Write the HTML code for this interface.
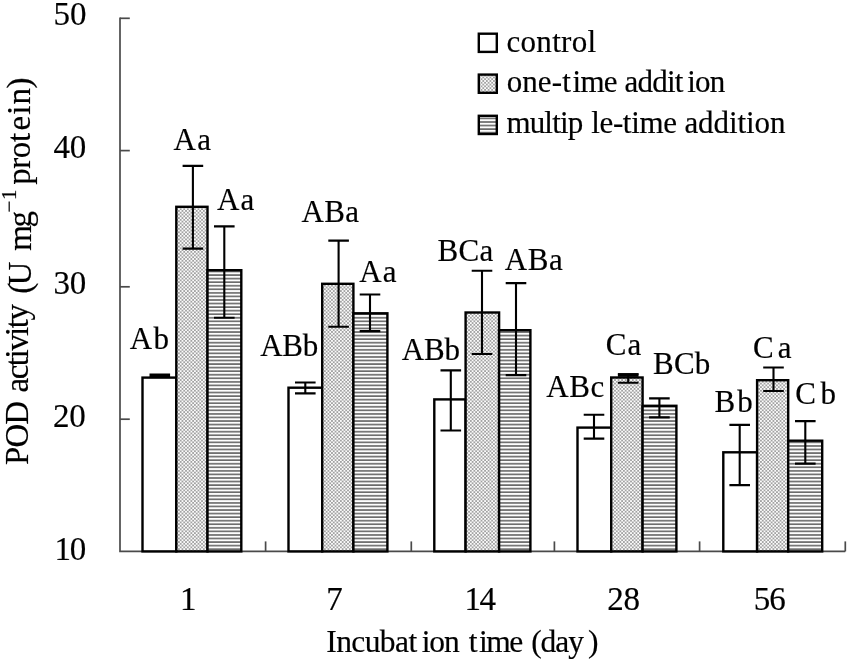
<!DOCTYPE html>
<html><head><meta charset="utf-8"><title>POD activity</title>
<style>html,body{margin:0;padding:0;background:#fff;}svg{display:block;filter:grayscale(1);}text{font-family:"Liberation Serif",serif;fill:#000;stroke:#000;stroke-width:0.18px;}</style></head><body>
<svg width="850" height="662" viewBox="0 0 850 662">
<defs>
<pattern id="dots" width="3.56" height="3.56" patternUnits="userSpaceOnUse"><rect width="3.56" height="3.56" fill="#fbfbfb"/><rect x="0" y="0" width="1.78" height="1.78" fill="#a2a2a2"/><rect x="1.78" y="1.78" width="1.78" height="1.78" fill="#a2a2a2"/></pattern>
<pattern id="hatch" width="3.56" height="3.56" patternUnits="userSpaceOnUse"><rect width="3.56" height="3.56" fill="#fdfdfd"/><rect x="0" y="0.2" width="3.56" height="1.5" fill="#5c5c5c"/></pattern>
</defs>
<rect width="850" height="662" fill="#fff"/>
<g stroke="#4a4a4a" stroke-width="1.7" fill="none">
<path d="M120.0 17.5V551.4H845.3"/>
<path d="M120.0 18.3H129.8"/>
<path d="M120.0 150.6H129.8"/>
<path d="M120.0 286.8H129.8"/>
<path d="M120.0 419.2H129.8"/>
<path d="M265.6 551.4V541.4"/>
<path d="M411.3 551.4V541.4"/>
<path d="M554.4 551.4V541.4"/>
<path d="M699.6 551.4V541.4"/>
<path d="M845.3 551.4V541.4"/>
</g>
<rect x="142.5" y="377.6" width="33.80" height="173.80" fill="#ffffff" stroke="#000" stroke-width="2.4"/>
<rect x="176.3" y="206.8" width="31.20" height="344.60" fill="url(#dots)" stroke="#000" stroke-width="2.4"/>
<rect x="207.5" y="270.2" width="33.80" height="281.20" fill="url(#hatch)" stroke="#000" stroke-width="2.4"/>
<rect x="288.5" y="387.7" width="33.70" height="163.70" fill="#ffffff" stroke="#000" stroke-width="2.4"/>
<rect x="322.2" y="283.8" width="31.20" height="267.60" fill="url(#dots)" stroke="#000" stroke-width="2.4"/>
<rect x="353.4" y="313.3" width="34.00" height="238.10" fill="url(#hatch)" stroke="#000" stroke-width="2.4"/>
<rect x="434.3" y="399.4" width="31.30" height="152.00" fill="#ffffff" stroke="#000" stroke-width="2.4"/>
<rect x="465.6" y="312.5" width="33.50" height="238.90" fill="url(#dots)" stroke="#000" stroke-width="2.4"/>
<rect x="499.1" y="330.2" width="31.30" height="221.20" fill="url(#hatch)" stroke="#000" stroke-width="2.4"/>
<rect x="577.5" y="427.6" width="33.70" height="123.80" fill="#ffffff" stroke="#000" stroke-width="2.4"/>
<rect x="611.2" y="377.5" width="31.40" height="173.90" fill="url(#dots)" stroke="#000" stroke-width="2.4"/>
<rect x="642.6" y="405.8" width="33.80" height="145.60" fill="url(#hatch)" stroke="#000" stroke-width="2.4"/>
<rect x="723.3" y="452.3" width="33.80" height="99.10" fill="#ffffff" stroke="#000" stroke-width="2.4"/>
<rect x="757.1" y="380.2" width="31.10" height="171.20" fill="url(#dots)" stroke="#000" stroke-width="2.4"/>
<rect x="788.2" y="440.7" width="34.00" height="110.70" fill="url(#hatch)" stroke="#000" stroke-width="2.4"/>
<g stroke="#000" stroke-width="2.1" fill="none">
<path d="M159.8 374.6V376.4M149.5 374.6H170.10000000000002M149.5 376.4H170.10000000000002"/>
<path d="M192.9 165.9V248.6M182.6 165.9H203.20000000000002M182.6 248.6H203.20000000000002"/>
<path d="M224.3 226.4V317.7M214.0 226.4H234.60000000000002M214.0 317.7H234.60000000000002"/>
<path d="M305.3 382.5V393.4M295.0 382.5H315.6M295.0 393.4H315.6"/>
<path d="M338.6 240.6V326.8M328.3 240.6H348.90000000000003M328.3 326.8H348.90000000000003"/>
<path d="M370.0 294.5V331.1M359.7 294.5H380.3M359.7 331.1H380.3"/>
<path d="M450.8 370.4V430.5M440.5 370.4H461.1M440.5 430.5H461.1"/>
<path d="M482.0 270.8V354.0M471.7 270.8H492.3M471.7 354.0H492.3"/>
<path d="M516.0 283.1V375.1M505.7 283.1H526.3M505.7 375.1H526.3"/>
<path d="M594.0 414.7V438.6M583.7 414.7H604.3M583.7 438.6H604.3"/>
<path d="M628.2 374.2V382.7M617.9000000000001 374.2H638.5M617.9000000000001 382.7H638.5"/>
<path d="M659.4 398.4V417.4M649.1 398.4H669.6999999999999M649.1 417.4H669.6999999999999"/>
<path d="M739.7 424.9V485.1M729.4000000000001 424.9H750.0M729.4000000000001 485.1H750.0"/>
<path d="M773.5 367.5V391.0M763.2 367.5H783.8M763.2 391.0H783.8"/>
<path d="M805.3 421.1V463.6M795.0 421.1H815.5999999999999M795.0 463.6H815.5999999999999"/>
</g>
<rect x="617.9" y="373.2" width="20.6" height="3.6" fill="#000"/>
<text x="53.38" y="25.0" font-size="33.0" letter-spacing="0.174">50</text>
<text x="53.46" y="158.29999999999998" font-size="33.0" letter-spacing="-0.199">40</text>
<text x="53.42" y="293.5" font-size="33.0" letter-spacing="-0.164">30</text>
<text x="53.05" y="426.9" font-size="33.0" letter-spacing="-0.193">20</text>
<text x="54.50" y="559.5" font-size="33.0" letter-spacing="-1.243">10</text>
<text x="180.10" y="610.0" font-size="33.0" letter-spacing="0.000">1</text>
<text x="326.32" y="610.0" font-size="33.0" letter-spacing="0.000">7</text>
<text x="464.60" y="610.0" font-size="33.0" letter-spacing="-1.684">14</text>
<text x="607.35" y="610.0" font-size="33.0" letter-spacing="-0.293">28</text>
<text x="753.78" y="610.0" font-size="33.0" letter-spacing="-1.100">56</text>
<text x="129.70" y="349.2" font-size="31.0" letter-spacing="1.396">Ab</text>
<text x="173.50" y="149.6" font-size="31.0" letter-spacing="1.380">Aa</text>
<text x="217.10" y="210.0" font-size="31.0" letter-spacing="1.080">Aa</text>
<text x="260.20" y="355.6" font-size="31.0" letter-spacing="-0.290">ABb</text>
<text x="301.50" y="221.5" font-size="31.0" letter-spacing="0.302">ABa</text>
<text x="359.20" y="281.6" font-size="31.0" letter-spacing="1.280">Aa</text>
<text x="401.70" y="360.2" font-size="31.0" letter-spacing="-0.140">ABb</text>
<text x="437.51" y="260.7" font-size="31.0" letter-spacing="0.302">BCa</text>
<text x="504.80" y="270.2" font-size="31.0" letter-spacing="0.552">ABa</text>
<text x="546.20" y="397.3" font-size="31.0" letter-spacing="0.567">ABc</text>
<text x="605.73" y="354.5" font-size="31.0" letter-spacing="1.159">Ca</text>
<text x="653.11" y="374.4" font-size="31.0" letter-spacing="0.160">BCb</text>
<text x="714.61" y="411.5" font-size="31.0" letter-spacing="1.897">Bb</text>
<text x="753.03" y="358.0" font-size="31.0" letter-spacing="4.059">Ca</text>
<text x="795.33" y="404.1" font-size="31.0" letter-spacing="4.475">Cb</text>
<text x="326.26" y="651.8" font-size="31.5" letter-spacing="-0.589">Incubat</text>
<text x="421.64" y="651.8" font-size="31.5" letter-spacing="-1.007">ion</text>
<text x="468.79" y="651.8" font-size="31.5" letter-spacing="0.000">t</text>
<text x="479.04" y="651.8" font-size="31.5" letter-spacing="-1.541">ime</text>
<text x="531.22" y="651.8" font-size="31.5" letter-spacing="-1.088">(day</text>
<text x="588.08" y="651.8" font-size="31.5" letter-spacing="0.000">)</text>
<text transform="translate(27.9 464.95) rotate(-90)" font-size="33.0" letter-spacing="-1.022">POD</text>
<text transform="translate(27.9 392.46) rotate(-90)" font-size="33.0" letter-spacing="-1.511">activity</text>
<text transform="translate(30.8 293.75) rotate(-90)" font-size="33.0" letter-spacing="-2.678">(U</text>
<text transform="translate(30.8 250.69) rotate(-90)" font-size="33.0" letter-spacing="-2.547">mg</text>
<text transform="translate(15.6 212.45) rotate(-90)" font-size="21" letter-spacing="0.000">−</text>
<text transform="translate(16.2 200.05) rotate(-90)" font-size="21" letter-spacing="0.000">1</text>
<text transform="translate(30.3 184.73) rotate(-90)" font-size="33.0" letter-spacing="-0.500">pro</text>
<text transform="translate(30.3 141.92) rotate(-90)" font-size="33.0" letter-spacing="0.000">t</text>
<text transform="translate(30.3 130.59) rotate(-90)" font-size="33.0" letter-spacing="1.187">ein</text>
<text transform="translate(30.3 88.46) rotate(-90)" font-size="33.0" letter-spacing="0.000">)</text>
<rect x="478.8" y="33.7" width="18" height="18.2" fill="#ffffff" stroke="#000" stroke-width="2.4"/>
<rect x="478.8" y="74.60000000000001" width="18" height="18.2" fill="url(#dots)" stroke="#000" stroke-width="2.4"/>
<rect x="478.8" y="115.8" width="18" height="18.2" fill="url(#hatch)" stroke="#000" stroke-width="2.4"/>
<text x="506.42" y="51.6" font-size="31.0" letter-spacing="0.332">control</text>
<text x="506.72" y="92.0" font-size="31.0" letter-spacing="0.073">one-</text>
<text x="562.30" y="92.0" font-size="31.0" letter-spacing="0.000">t</text>
<text x="572.55" y="92.0" font-size="31.0" letter-spacing="-0.730">ime</text>
<text x="624.41" y="92.0" font-size="31.0" letter-spacing="-0.753">addit</text>
<text x="687.35" y="92.0" font-size="31.0" letter-spacing="-0.896">ion</text>
<text x="506.45" y="133.0" font-size="31.0" letter-spacing="-0.838">multip</text>
<text x="591.18" y="133.0" font-size="31.0" letter-spacing="-0.333">le-time</text>
<text x="684.41" y="133.0" font-size="31.0" letter-spacing="-0.077">addition</text>
</svg></body></html>
